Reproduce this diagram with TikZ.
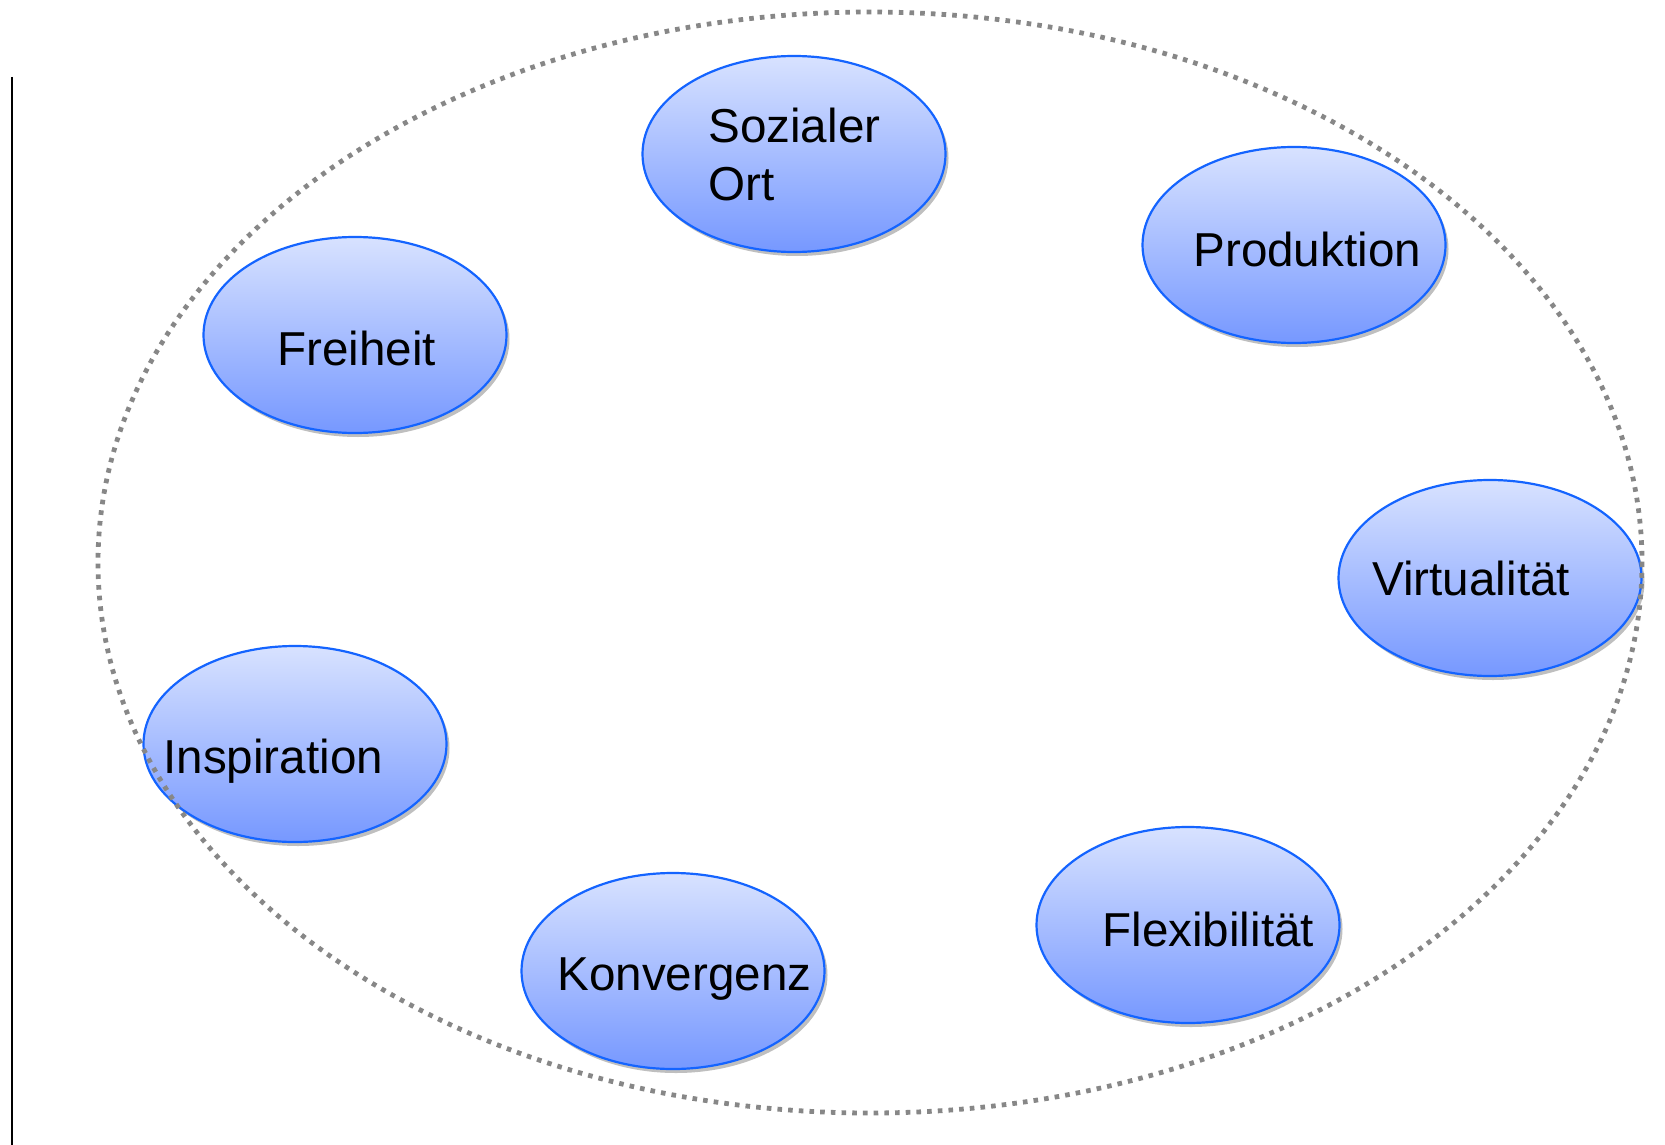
\documentclass[tikz,border=0pt]{standalone}
\usepackage{fontspec}
\setmainfont{Liberation Sans}
\usetikzlibrary{shadows,shapes.geometric}
\definecolor{ellborder}{RGB}{20,100,255}
\definecolor{elltop}{RGB}{216,226,255}
\definecolor{ellbot}{RGB}{118,152,255}
\definecolor{dotgray}{RGB}{135,135,135}
\begin{document}
\begin{tikzpicture}[x=0.5pt,y=-0.5pt,
  bubble/.style={ellipse, draw=ellborder, line width=1.1pt, inner sep=0pt,
    minimum width=151.5pt, minimum height=98pt,
    top color=elltop, bottom color=ellbot,
    drop shadow={shadow xshift=1.5pt, shadow yshift=-2pt, fill=black, opacity=0.25}},
  label/.style={anchor=base west, inner sep=0pt, font=\fontsize{23.8}{29}\selectfont, text=black},
  outer/.style={draw=dotgray, line width=2.4pt, dash pattern=on 2.3pt off 3.05pt}]
\useasboundingbox (0,0) rectangle (1665,1145);
\fill[white] (0,0) rectangle (1665,1145);
% left vertical rule
\coordinate (rtop) at (12,77);
\coordinate (rbot) at (12,1145);
\draw[line width=1pt] (rtop) -- (rbot);
% bubbles
\node[bubble] (soz) at (794,154) {};
\node[bubble] (pro) at (1294,245) {};
\node[bubble] (fre) at (355,335) {};
\node[bubble] (vir) at (1490,578) {};
\node[bubble] (ins) at (295,744) {};
\node[bubble] (flx) at (1188,925) {};
\node[bubble] (kon) at (673,971) {};
% labels
\node[label] (sozA) at (708,142) {Sozialer};
\node[label] (sozB) at (708,200) {Ort};
\node[label] (proL) at (1193,266) {Produktion};
\node[label] (freL) at (277,365) {Freiheit};
\node[label] (virL) at (1372,595) {Virtualität};
\node[label] (insL) at (163,773) {Inspiration};
\node[label] (flxL) at (1102,946) {Flexibilität};
\node[label] (konL) at (557,990) {Konvergenz};
% outer dotted ellipse
\draw[outer] (870,562.5) ellipse [x radius=772, y radius=550.5];
\end{tikzpicture}
\end{document}
